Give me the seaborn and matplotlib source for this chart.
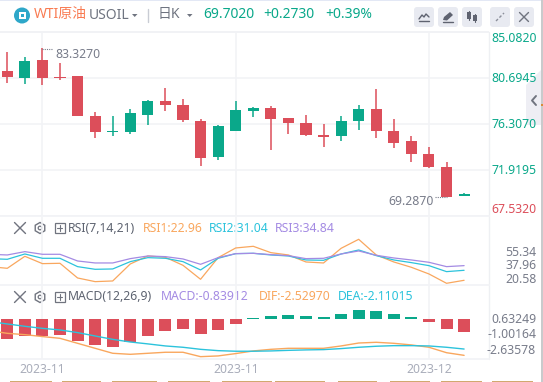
import matplotlib
matplotlib.use('Agg')
import matplotlib.pyplot as plt
from matplotlib.patches import Circle, FancyBboxPatch, Polygon, Rectangle, RegularPolygon
import numpy as np
import seaborn as sns

# candles, oldest first
opens = [81.39, 80.73, 82.44, 80.82, 80.92, 77.10, 75.58, 75.58, 77.20, 78.53, 78.15, 76.62, 73.19, 75.67,
         77.58, 77.87, 76.91, 76.43, 75.29, 75.19, 76.62, 77.77, 75.67, 74.72, 73.48, 72.24, 69.47]
closes = [80.82, 82.35, 80.73, 80.73, 77.10, 75.58, 75.67, 77.39, 78.53, 78.15, 76.72, 73.10, 76.15, 77.67,
          77.87, 76.82, 76.43, 75.29, 75.10, 76.62, 77.77, 75.67, 74.53, 73.48, 72.24, 69.37, 69.66]
highs = [83.21, 82.73, 83.56, 82.16, 80.92, 77.48, 77.10, 77.77, 78.63, 79.77, 78.72, 76.82, 76.24, 78.53,
         77.96, 78.06, 76.91, 77.20, 76.34, 77.10, 78.15, 79.68, 76.82, 75.19, 74.15, 72.71, 69.76]
lows = [80.25, 80.15, 80.06, 80.54, 77.10, 75.00, 75.19, 75.39, 76.24, 77.58, 76.53, 72.33, 72.90, 75.67,
        77.01, 73.86, 75.39, 75.19, 74.15, 74.72, 75.77, 75.00, 74.05, 72.71, 72.14, 69.37, 69.47]

# line series start one day before the first candle
rsi1 = [34.96, 32.81, 48.26, 38.82, 39.25, 20.36, 15.64, 16.50, 38.39, 48.69, 46.97, 36.67, 18.65, 46.54, 58.99,
        61.14, 52.98, 49.98, 40.96, 39.68, 58.56, 70.15, 49.98, 40.96, 34.10, 25.51, 13.50, 17.36]
rsi2 = [45.26, 44.40, 51.26, 45.69, 45.69, 34.96, 31.52, 31.95, 41.39, 46.54, 45.69, 41.39, 30.66, 45.69, 51.69,
        52.12, 49.98, 48.69, 43.54, 43.11, 51.26, 56.41, 49.12, 43.54, 40.11, 36.24, 28.52, 30.23]
rsi3 = [50.84, 49.98, 54.27, 50.84, 50.84, 42.25, 39.68, 39.68, 45.26, 48.69, 47.83, 44.83, 37.96, 46.54, 51.69,
        52.12, 50.41, 49.12, 45.26, 45.69, 51.26, 55.13, 49.55, 46.11, 43.54, 40.54, 34.96, 36.24]
dif = [-0.80, -0.98, -1.07, -1.20, -1.32, -1.66, -2.00, -2.34, -2.41, -2.34, -2.27, -2.27, -2.57, -2.52, -2.36,
       -2.18, -2.07, -2.00, -2.00, -2.00, -1.84, -1.64, -1.59, -1.66, -1.77, -1.93, -2.30, -2.48]
dea = [-0.18, -0.34, -0.50, -0.64, -0.75, -0.93, -1.16, -1.39, -1.57, -1.70, -1.84, -1.93, -2.07, -2.16, -2.20,
       -2.20, -2.18, -2.14, -2.11, -2.09, -2.02, -1.93, -1.86, -1.82, -1.82, -1.84, -1.93, -2.05]
macd_hist = [-1.36, -1.16, -1.16, -1.09, -1.50, -1.77, -1.91, -1.57, -1.16, -0.82, -0.68, -1.02, -0.75, -0.34,
             0.07, 0.20, 0.27, 0.20, 0.14, 0.34, 0.61, 0.55, 0.34, 0.14, -0.20, -0.68, -0.89]

price_ticks = [85.082, 80.6945, 76.307, 71.9195, 67.532]
price_labels = ['85.0820', '80.6945', '76.3070', '71.9195', '67.5320']
rsi_ticks = [55.34, 37.96, 20.58]
macd_tick_labels = ['0.63249', '-1.00164', '-2.63578']
date_days = [2, 13, 24]
date_labels = ['2023-11', '2023-11', '2023-12']

GREEN = '#0aa88a'
RED = '#dc4e5a'
ORANGE = '#f9a75e'
CYAN = '#2cc3dc'
PURPLE = '#a48be3'
GRID = '#f2f3f6'
GRAY = '#787c8a'
W, H = 543, 382

sns.set_theme(style='white')
plt.rcParams['font.family'] = ['Noto Sans', 'Noto Sans CJK SC', 'DejaVu Sans']

fig = plt.figure(figsize=(W / 100, H / 100), dpi=100)


def pane(top, bottom):
    ax = fig.add_axes([0, 1 - bottom / H, 488.7 / W, (bottom - top) / H], zorder=1)
    ax.patch.set_alpha(0)
    ax.set_xlim(-0.415, 27.4)
    ax.set_xticks(date_days)
    ax.set_xticklabels([])
    ax.grid(True, color=GRID, linewidth=1.2)
    ax.set_axisbelow(True)
    ax.yaxis.tick_right()
    ax.tick_params(axis='both', length=0, labelsize=8.8, colors=GRAY, pad=34.5)
    for side in ['left', 'top', 'right', 'bottom']:
        ax.spines[side].set_visible(False)
    ax.spines['bottom'].set_visible(True)
    ax.spines['bottom'].set_color(GRID)
    return ax


days = np.arange(len(closes))
line_days = np.arange(-1, len(closes))

# price pane
ax_price = pane(32.3, 216.3)
ax_price.set_ylim(67.532, 85.082)
ax_price.set_yticks(price_ticks)
ax_price.set_yticklabels(price_labels)
for lab, c, va in zip(ax_price.get_yticklabels(), [GREEN] * 4 + [RED], ['top', 'center', 'center', 'center', 'bottom']):
    lab.set_color(c)
    lab.set_ha('right')
    lab.set_va(va)
candle_colors = [GREEN if c > o else RED for o, c in zip(opens, closes)]
ax_price.vlines(days, lows, highs, colors=candle_colors, linewidth=1.1)
ax_price.bar(days, np.array(closes) - np.array(opens), bottom=opens, width=0.63, color=candle_colors,
             edgecolor='none', linewidth=0)
ax_price.annotate('83.3270', (2, 83.327), xytext=(9.5, -2.5), textcoords='offset points', fontsize=8.8,
                  color=GRAY, va='center')
ax_price.annotate('69.2870', (25, 69.287), xytext=(-9.5, -2.5), textcoords='offset points', fontsize=8.8,
                  color=GRAY, va='center', ha='right')
ax_price.plot([2, 2.6], [83.45, 83.45], color=GRAY, linewidth=0.8, linestyle=(0, (1, 1)))
ax_price.plot([24.35, 25], [69.35, 69.35], color=GRAY, linewidth=0.8, linestyle=(0, (1, 1)))

# RSI pane
ax_rsi = pane(217.3, 285.3)
for values, c in [(rsi1, ORANGE), (rsi2, CYAN), (rsi3, PURPLE)]:
    sns.lineplot(x=line_days, y=values, color=c, linewidth=0.9, ax=ax_rsi)
ax_rsi.set_xlim(-0.415, 27.4)
ax_rsi.set_ylim(10.92, 98.48)
ax_rsi.set_yticks(rsi_ticks)
ax_rsi.set_yticklabels(['%.2f' % t for t in rsi_ticks])
for lab in ax_rsi.get_yticklabels():
    lab.set_ha('right')
ax_rsi.set_xlabel('')
ax_rsi.set_ylabel('')
ax_rsi.yaxis.grid(False)

# MACD pane
ax_macd = pane(285.3, 359.3)
hist_side = ['up' if v > 0 else 'down' for v in macd_hist]
sns.barplot(x=days, y=macd_hist, hue=hist_side, palette={'up': GREEN, 'down': RED}, native_scale=True,
            dodge=False, legend=False, width=0.68, saturation=1, linewidth=0, edgecolor='none', ax=ax_macd)
sns.lineplot(x=line_days, y=dif, color=ORANGE, linewidth=1, ax=ax_macd)
sns.lineplot(x=line_days, y=dea, color=CYAN, linewidth=1, ax=ax_macd)
ax_macd.set_xlim(-0.415, 27.4)
ax_macd.set_ylim(-2.75, 2.295)
ax_macd.set_yticks([])
ax_macd.set_xticks(date_days)
ax_macd.set_xticklabels(date_labels, color='#a9adba', fontsize=8.8)
ax_macd.tick_params(axis='x', pad=2.5)
ax_macd.set_xlabel('')
ax_macd.set_ylabel('')
ax_macd.yaxis.grid(False)

# everything around the panes, in pixels
ax_ui = fig.add_axes([0, 0, 1, 1], zorder=0)
ax_ui.set_xlim(0, W)
ax_ui.set_ylim(H, 0)
ax_ui.axis('off')


def label(x, y, s, c=GRAY, size=8.8, **kw):
    ax_ui.text(x, y, s, color=c, fontsize=size, va='center', **kw)


def cross(x, y, r, c='#70747f'):
    ax_ui.plot([x - r, x + r], [y - r, y + r], color=c, linewidth=1)
    ax_ui.plot([x - r, x + r], [y + r, y - r], color=c, linewidth=1)


ax_ui.add_patch(Rectangle((0, 0), W, 1, color='#e3e8f5', linewidth=0))
ax_ui.add_patch(Rectangle((0, 31), 489, 1.5, color='#f1f2f5', linewidth=0))
ax_ui.plot([488.7, 488.7], [32, 359], color='#eef0f3', linewidth=1)
ax_ui.add_patch(Polygon([(526, 85), (541, 70), (541, 125), (526, 125)], color='#eeeef4', linewidth=0))
ax_ui.plot([536, 532, 536], [96, 100.5, 105], color='#70747f', linewidth=1.4)
ax_ui.add_patch(Rectangle((541, 0), 2, H, color='#c9cacc', linewidth=0))
ax_ui.add_patch(Rectangle((541, 104), 2, 1.5, color='#d98a3a', linewidth=0))
for x0, x1 in [(10, 52), (62, 101), (112, 157), (168, 210), (222, 272), (275, 325), (338, 377), (390, 430),
               (441, 482), (492, 533)]:
    ax_ui.add_patch(Rectangle((x0, 380.6), x1 - x0, 1.4, color='#d1a96f', linewidth=0))

# header row
ax_ui.add_patch(Circle((22, 15.5), 8, color='#2ea7c9', linewidth=0))
ax_ui.add_patch(Rectangle((18.5, 12), 7, 7, color='white', linewidth=0))
ax_ui.add_patch(Rectangle((20.5, 14), 3, 3, color='#2ea7c9', linewidth=0))
label(34, 14.5, 'WTI原油', '#f97b52', 10)
label(89, 15.5, 'USOIL', '#6f7480', 10)
ax_ui.add_patch(Polygon([(132, 14), (137.5, 14), (134.7, 17)], color='#6f7480', linewidth=0))
ax_ui.plot([148, 148], [9, 21.5], color='#c9ccd4', linewidth=1)
label(158, 14.5, '日K', '#6f7480', 10)
ax_ui.add_patch(Polygon([(187, 14), (192.5, 14), (189.7, 17)], color='#6f7480', linewidth=0))
label(203, 14.5, '69.7020', GREEN, 10, fontweight='bold')
label(263, 14.5, '+0.2730', GREEN, 10, fontweight='bold')
label(325, 14.5, '+0.39%', GREEN, 10, fontweight='bold')

for x0 in [414, 438, 462, 490, 514]:
    ax_ui.add_patch(FancyBboxPatch((x0 + 2, 9), 16, 16, boxstyle='round,pad=2,rounding_size=3',
                                   color='#e8eaf1', linewidth=0))
ax_ui.plot([419, 422, 424, 426, 429], [19, 15, 17, 14, 17], color='#5f6370', linewidth=1)
ax_ui.plot([419, 429], [21, 21], color='#5f6370', linewidth=1)
ax_ui.add_patch(Polygon([(443, 20), (444, 17), (450, 12), (453, 15), (447, 20.5)], color='#5f6370', linewidth=0))
ax_ui.plot([443, 453], [22, 22], color='#5f6370', linewidth=1)
for x, y0, y1 in [(469, 12, 19), (475, 15, 21)]:
    ax_ui.plot([x, x], [y0 - 1, y1 + 1], color='#5f6370', linewidth=0.8)
    ax_ui.add_patch(Rectangle((x - 2, y0), 4, y1 - y0, color='#5f6370', linewidth=0))
ax_ui.plot([496, 504], [21, 13], color='#8b8f9a', linewidth=1, linestyle=(0, (2, 1.5)))
cross(524, 17, 4.5)

# pane headers
for y in [228, 297]:
    cross(20, y, 5.5)
    ax_ui.add_patch(RegularPolygon((40, y), 6, radius=5.5, fill=False, edgecolor='#70747f', linewidth=1))
    ax_ui.add_patch(Circle((40, y), 1.8, fill=False, edgecolor='#70747f', linewidth=0.9))
    ax_ui.add_patch(Rectangle((54.5, y - 5), 10, 10, fill=False, edgecolor='#70747f', linewidth=0.9))
    ax_ui.plot([56.8, 62.2], [y, y], color='#70747f', linewidth=0.8)
    ax_ui.plot([59.5, 59.5], [y - 2.7, y + 2.7], color='#70747f', linewidth=0.8)
label(68, 228.5, 'RSI(7,14,21)', '#5d6370')
label(143, 228.5, 'RSI1:22.96', ORANGE)
label(209, 228.5, 'RSI2:31.04', CYAN)
label(275, 228.5, 'RSI3:34.84', PURPLE)
label(68, 297, 'MACD(12,26,9)', '#5d6370')
label(161, 297, 'MACD:-0.83912', PURPLE)
label(259, 297, 'DIF:-2.52970', ORANGE)
label(338, 297, 'DEA:-2.11015', CYAN)
for y, s in zip([319.5, 334.5, 350.5], macd_tick_labels):
    label(536, y, s, ha='right')

fig.savefig('out.png', dpi=100)
